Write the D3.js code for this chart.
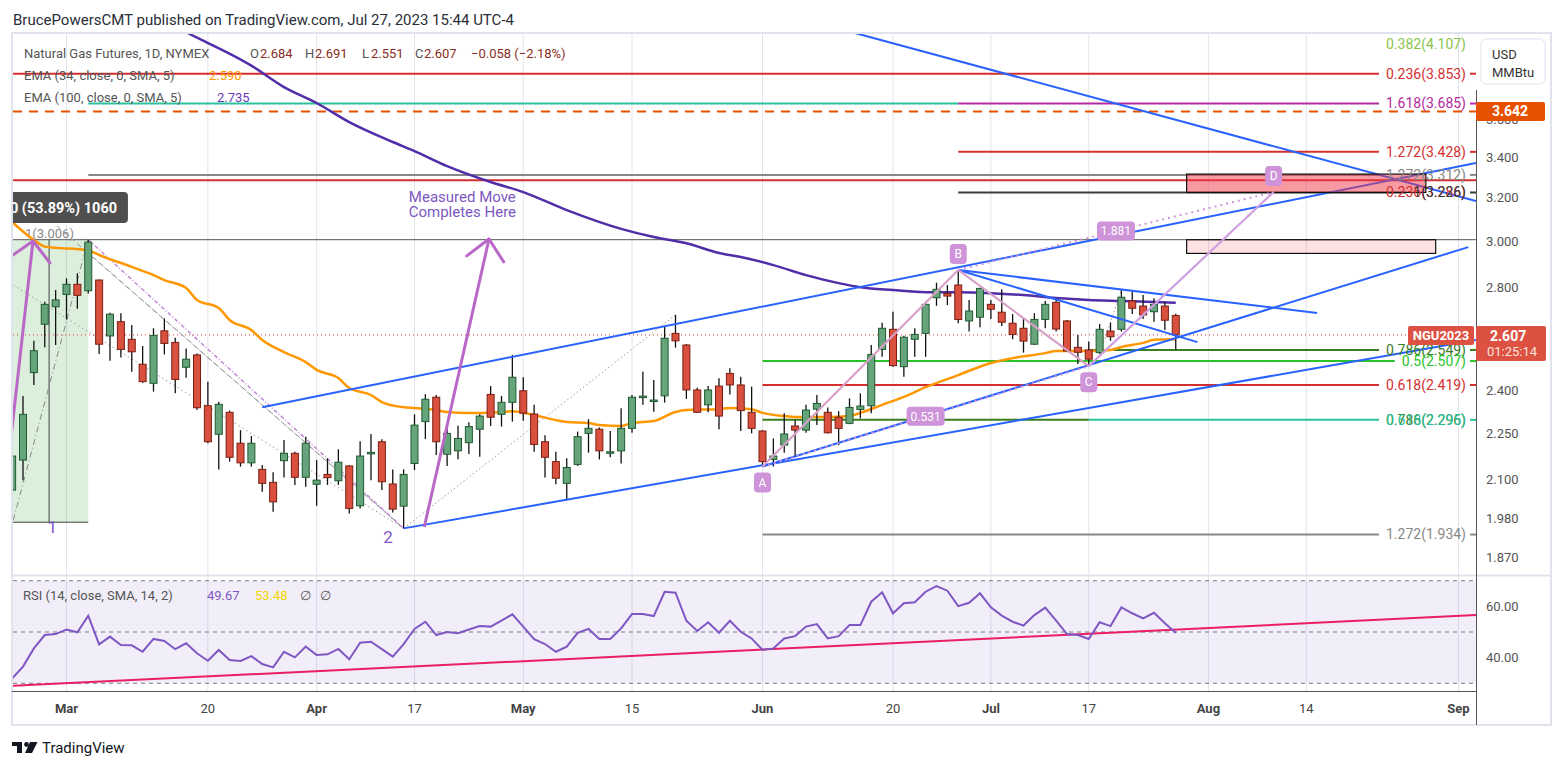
<!DOCTYPE html>
<html>
<head>
<meta charset="utf-8">
<style>
body { margin: 0; background: #fff; }
svg text { font-family: Roboto, "Noto Sans", sans-serif; }
</style>
</head>
<body>
<svg id="chart" width="1564" height="770"></svg>
<script src="https://cdn.jsdelivr.net/npm/d3@7"></script>
<script>
// trading calendar (bar -5 = Feb 22, bar 0 = Mar 1)
var holidays = ["2023-04-07", "2023-05-29", "2023-06-19", "2023-07-04", "2023-09-04"];
var firstDay = "2023-02-22", lastDay = "2023-09-08";

// OHLC, one value per bar from Feb 22 to Jul 27
var open  = [2.067,2.162,2.464,2.649,2.719,2.770,2.812,2.785,2.830,2.603,2.659,2.590,2.495,2.425,2.623,2.578,2.484,2.530,2.345,2.247,2.322,2.217,2.153,2.132,2.091,2.160,2.184,2.107,2.085,2.116,2.096,2.143,2.019,2.184,2.222,2.086,2.018,2.151,2.290,2.375,2.181,2.192,2.219,2.264,2.385,2.315,2.357,2.398,2.316,2.222,2.157,2.088,2.148,2.250,2.264,2.184,2.192,2.267,2.375,2.362,2.380,2.613,2.568,2.401,2.348,2.415,2.461,2.419,2.322,2.258,2.164,2.211,2.275,2.261,2.333,2.322,2.305,2.284,2.332,2.345,2.551,2.629,2.486,2.590,2.613,2.756,2.774,2.809,2.662,2.677,2.729,2.697,2.653,2.633,2.571,2.668,2.737,2.662,2.559,2.549,2.539,2.622,2.629,2.743,2.722,2.699,2.722,2.684];
var high  = [2.188,2.379,2.584,2.740,2.788,2.837,2.859,3.006,2.832,2.695,2.693,2.646,2.564,2.633,2.672,2.596,2.555,2.536,2.431,2.359,2.328,2.261,2.241,2.146,2.123,2.228,2.189,2.239,2.162,2.168,2.197,2.146,2.224,2.248,2.230,2.132,2.132,2.315,2.386,2.383,2.273,2.276,2.288,2.315,2.415,2.380,2.530,2.447,2.348,2.244,2.189,2.168,2.256,2.298,2.270,2.258,2.336,2.383,2.467,2.437,2.639,2.686,2.572,2.409,2.415,2.443,2.480,2.449,2.413,2.261,2.233,2.319,2.295,2.348,2.383,2.339,2.326,2.371,2.389,2.568,2.655,2.699,2.604,2.633,2.740,2.819,2.809,2.873,2.747,2.797,2.747,2.791,2.690,2.672,2.693,2.743,2.747,2.666,2.607,2.581,2.650,2.655,2.788,2.781,2.767,2.754,2.740,2.691];
var low   = [2.052,2.098,2.419,2.559,2.568,2.668,2.711,2.774,2.534,2.508,2.520,2.467,2.427,2.395,2.532,2.389,2.445,2.330,2.217,2.132,2.157,2.141,2.141,2.062,2.001,2.106,2.083,2.077,2.019,2.083,2.083,1.996,2.011,2.098,2.067,1.999,1.952,2.130,2.231,2.178,2.143,2.165,2.182,2.173,2.275,2.273,2.290,2.293,2.189,2.106,2.085,2.036,2.143,2.186,2.164,2.171,2.151,2.252,2.348,2.324,2.356,2.558,2.369,2.320,2.322,2.264,2.385,2.258,2.250,2.141,2.141,2.186,2.175,2.252,2.278,2.250,2.211,2.281,2.301,2.319,2.523,2.486,2.449,2.523,2.523,2.723,2.726,2.653,2.620,2.637,2.670,2.642,2.590,2.539,2.568,2.633,2.620,2.542,2.496,2.488,2.534,2.584,2.620,2.690,2.670,2.659,2.626,2.551];
var close = [2.175,2.315,2.546,2.729,2.747,2.812,2.766,2.995,2.571,2.689,2.551,2.542,2.431,2.605,2.574,2.439,2.514,2.338,2.222,2.350,2.171,2.153,2.217,2.088,2.031,2.184,2.107,2.217,2.098,2.106,2.155,2.011,2.175,2.187,2.093,2.009,2.116,2.278,2.368,2.222,2.250,2.233,2.273,2.309,2.305,2.357,2.447,2.319,2.213,2.171,2.104,2.138,2.239,2.267,2.192,2.189,2.267,2.375,2.379,2.365,2.594,2.584,2.401,2.322,2.401,2.309,2.419,2.328,2.267,2.157,2.175,2.248,2.261,2.330,2.353,2.252,2.267,2.339,2.344,2.532,2.633,2.490,2.598,2.609,2.729,2.791,2.763,2.668,2.702,2.795,2.709,2.657,2.609,2.583,2.668,2.729,2.630,2.545,2.540,2.514,2.629,2.600,2.758,2.713,2.686,2.729,2.665,2.607];

// RSI(14), one value per bar
var rsi = [31.9,36.5,43.6,48.8,49.2,51.0,49.9,56.4,45.2,48.2,44.9,44.8,42.3,47.3,46.5,43.3,45.6,41.7,38.8,43.0,39.1,38.7,40.6,37.5,36.2,42.3,40.1,44.3,41.0,41.3,43.4,39.4,45.8,46.2,43.3,40.4,45.3,51.2,54.0,48.8,50.0,49.5,51.0,52.3,52.1,54.4,56.9,52.1,47.2,45.3,42.3,44.3,49.7,51.2,47.3,47.3,51.4,57.0,57.0,56.2,65.7,65.3,54.4,50.4,53.8,49.7,54.4,50.1,47.5,43.0,43.6,47.5,48.4,52.1,53.1,47.5,48.4,52.7,52.7,61.8,65.5,57.3,61.2,61.6,65.7,67.9,66.1,60.1,61.4,65.1,59.6,56.4,54.0,52.5,56.6,59.5,54.4,49.2,48.8,47.3,53.8,52.3,59.6,57.3,55.3,57.5,53.4,49.7];

// EMA values: [bar, value]
var ema34 = [[-5,3.087],[-3,3.005],[-2,2.975],[2,2.958],[3,2.938],[6,2.886],[8,2.851],[9,2.830],[11,2.796],[12,2.747],[14,2.714],[15,2.666],[17,2.626],[18,2.587],[20,2.541],[22,2.503],[23,2.474],[25,2.444],[26,2.408],[28,2.383],[29,2.358],[31,2.340],[32,2.337],[34,2.330],[35,2.323],[37,2.320],[38,2.320],[40,2.323],[41,2.326],[43,2.313],[45,2.295],[46,2.289],[48,2.285],[49,2.278],[51,2.275],[52,2.285],[54,2.292],[56,2.323],[57,2.330],[60,2.333],[61,2.337],[63,2.333],[64,2.320],[66,2.309],[67,2.306],[70,2.306],[72,2.309],[73,2.320],[75,2.348],[77,2.376],[79,2.411],[82,2.455],[85,2.500],[87,2.518],[90,2.537],[91,2.545],[94,2.545],[96,2.549],[97,2.560],[99,2.576],[100,2.588],[102,2.590]];
var ema100 = [[9,4.170],[11,4.100],[17,3.900],[20,3.777],[23,3.688],[26,3.584],[30,3.479],[32,3.432],[35,3.356],[39,3.277],[42,3.228],[46,3.142],[51,3.055],[54,3.018],[57,2.990],[60,2.947],[62,2.929],[65,2.894],[68,2.851],[71,2.817],[73,2.800],[76,2.788],[79,2.779],[82,2.779],[85,2.775],[88,2.767],[91,2.755],[94,2.747],[97,2.743],[100,2.739],[102,2.735]];

// time axis
var ticks = [["2023-03-01","Mar",1],["2023-03-20","20",0],["2023-04-03","Apr",1],["2023-04-17","17",0],["2023-05-01","May",1],["2023-05-15","15",0],["2023-06-01","Jun",1],["2023-06-20","20",0],["2023-07-03","Jul",1],["2023-07-17","17",0],["2023-08-01","Aug",1],["2023-08-14","14",0],["2023-09-01","Sep",1]];
var priceTicks = [3.6, 3.4, 3.2, 3.0, 2.8, 2.6, 2.4, 2.25, 2.1, 1.98, 1.87];
var rsiTicks = [60, 40];

// drawings, [bar, price]
var abcd = {A:[64,2.141], B:[82,2.873], C:[94,2.488], D:[111,3.228]};
var ratioLabels = [["A","C","0.531"],["B","D","1.881"]];
var blueLines = [
  [[18,2.340],[129.6,3.371]],
  [[31,1.952],[129.6,2.587]],
  [[72.5,4.095],[129.6,3.185]],
  [[64,2.141],[128.9,2.973]],
  [[82,2.873],[115,2.694]],
  [[82,2.873],[104,2.579]]
];
var fanTip = [31,1.952];
var fanStarts = [[-4.9,2.809,"dot"],[-0.87,3.068,"dash"],[2.44,2.929,"dash"],[2,3.006,"violet"]];
var dottedGray = [[[31,1.952],[56,2.686]],[[95,2.534],[97,2.788]]];
var moveArrow = {from:[32.9,1.956], tip:[38.85,3.009], arms:[[36.8,2.934],[40.2,2.908]]};
var boxArrow = {from:[-6.5,1.825], tip:[-3.08,3.0], arms:[[-4.92,2.938],[-1.52,2.903]]};
var rangeBox = {x0:-7, x1:2, p0:1.970, p1:3.006, mid:-1.6};
var targetBoxes = [{x0:103.0, x1:125.0, p0:3.226, p1:3.316, kind:"strong"}, {x0:103.0, x1:125.9, p0:2.945, p1:3.006, kind:"light"}];
var rsiTrend = [[-5,29.0],[129.6,56.6]];

// fib levels
var fibs = [
  {v:4.107, from:-7, text:"0.382(4.107)", kind:"lime"},
  {v:3.853, from:-7, text:"0.236(3.853)", kind:"red"},
  {v:3.685, from:2, to:82, kind:"teal"},
  {v:3.685, from:82, text:"1.618(3.685)", kind:"magenta"},
  {v:3.428, from:82, text:"1.272(3.428)", kind:"red"},
  {v:3.312, from:2, text:"1.272(3.312)", kind:"gray"},
  {v:3.226, text:"0.236(3.286)", kind:"red", overlay:1},
  {v:3.226, from:82, text:"1(3.226)", kind:"black"},
  {v:2.549, from:94, text:"0.786(2.549)", kind:"dkgreen"},
  {v:2.507, from:64, text:"0.5(2.507)", kind:"green"},
  {v:2.419, from:64, text:"0.618(2.419)", kind:"red"},
  {v:2.296, from:64, to:94, kind:"dkgreen"},
  {v:2.296, text:"0.786(2.296)", kind:"dkgreen", overlay:1},
  {v:2.296, from:94, text:"0.618(2.295)", kind:"teal"},
  {v:1.934, from:64, text:"1.272(1.934)", kind:"gray"}
];
var fibColor = {lime:"#8bc34a", red:"#d32f2f", teal:"#2bc29a", magenta:"#b52aa0", gray:"#888888", black:"#3a3a3a", dkgreen:"#3a7d1f", green:"#2ac42a"};

var lastPrice = 2.607, markPrice = 3.642, levelRed = 3.286, levelOne = 3.006;

// ---------------------------------------------------------------
var svg = d3.select("#chart");
var L = 13, R = 1476, T = 33, PB = 575, RT = 576, RB = 691, XB = 725;

var parse = d3.utcParse("%Y-%m-%d"), fmt = d3.utcFormat("%Y-%m-%d");
var calendar = [];
for (var d = parse(firstDay); d <= parse(lastDay); d = d3.utcDay.offset(d, 1)) {
  var wd = d.getUTCDay(), s = fmt(d);
  if (wd > 0 && wd < 6 && holidays.indexOf(s) < 0) calendar.push(s);
}
var barOf = function(s) { return calendar.indexOf(s) - 5; };

var x = d3.scaleLinear().domain([0, 128]).range([66.5, 1458.5]);
var y = d3.scaleLog().domain([1.8205, 4.095]).range([PB, T]);
var yr = d3.scaleLinear().domain([30, 70]).range([683.3, 580.7]);
var P = function(pt) { return [x(pt[0]), y(pt[1])]; };

var bars = open.map(function(o, i) {
  return {i: i - 5, o: o, h: high[i], l: low[i], c: close[i]};
});

var defs = svg.append("defs");
defs.append("clipPath").attr("id", "pane").append("rect").attr("x", L).attr("y", T).attr("width", R - L).attr("height", PB - T);
defs.append("clipPath").attr("id", "rpane").append("rect").attr("x", L).attr("y", RT).attr("width", R - L).attr("height", RB - RT);

// grid
svg.append("g").selectAll("line").data(ticks).enter().append("line")
  .attr("x1", function(t) { return x(barOf(t[0])); }).attr("x2", function(t) { return x(barOf(t[0])); })
  .attr("y1", T).attr("y2", RB).attr("stroke", "#e3e3ec").attr("stroke-width", 1);

var g = svg.append("g").attr("clip-path", "url(#pane)");

// range box on the left
g.append("rect").attr("x", x(rangeBox.x0)).attr("y", y(rangeBox.p1))
  .attr("width", x(rangeBox.x1) - x(rangeBox.x0)).attr("height", y(rangeBox.p0) - y(rangeBox.p1))
  .attr("fill", "rgba(76,175,80,0.2)");
g.append("line").attr("x1", x(rangeBox.mid)).attr("x2", x(rangeBox.mid))
  .attr("y1", y(rangeBox.p1)).attr("y2", y(rangeBox.p0)).attr("stroke", "#444").attr("stroke-width", 1);
g.append("line").attr("x1", x(rangeBox.x0)).attr("x2", x(rangeBox.x1))
  .attr("y1", y(rangeBox.p0)).attr("y2", y(rangeBox.p0)).attr("stroke", "#444").attr("stroke-width", 1);
g.append("line").attr("x1", x(-4.9)).attr("y1", y(1.976)).attr("x2", x(2)).attr("y2", y(3.006))
  .attr("stroke", "#888").attr("stroke-width", 1).attr("stroke-dasharray", "6,3,1,3");

// horizontal levels
g.append("line").attr("x1", L).attr("x2", R).attr("y1", y(levelOne)).attr("y2", y(levelOne)).attr("stroke", "#555").attr("stroke-width", 1);
g.append("line").attr("x1", L).attr("x2", R).attr("y1", y(levelRed)).attr("y2", y(levelRed)).attr("stroke", "#d32f2f").attr("stroke-width", 2);
g.append("line").attr("x1", L).attr("x2", R).attr("y1", y(markPrice)).attr("y2", y(markPrice))
  .attr("stroke", "#e65100").attr("stroke-width", 2).attr("stroke-dasharray", "9,7");
g.append("line").attr("x1", L).attr("x2", 1408).attr("y1", y(lastPrice)).attr("y2", y(lastPrice))
  .attr("stroke", "#e53935").attr("stroke-width", 1).attr("stroke-dasharray", "1,3");

var fg = svg.append("g");
fibs.forEach(function(f) {
  var yy = y(f.v), col = fibColor[f.kind], end = f.to !== undefined ? x(f.to) : R;
  if (f.text) {
    var t = fg.append("text").attr("x", 1466).attr("y", Math.max(yy, 44)).attr("dy", "0.35em")
      .attr("text-anchor", "end").attr("font-size", 14).attr("fill", col).text(f.text);
    if (!f.overlay) {
      end = 1466 - t.node().getComputedTextLength() - 7;
      g.append("line").attr("x1", 1470).attr("x2", R).attr("y1", yy).attr("y2", yy).attr("stroke", col).attr("stroke-width", 2);
    }
  }
  if (!f.overlay) g.append("line").attr("x1", x(f.from)).attr("x2", end).attr("y1", yy).attr("y2", yy).attr("stroke", col).attr("stroke-width", 2);
});
g.append("text").attr("x", 25).attr("y", y(levelOne) - 2).attr("font-size", 13).attr("fill", "#888").text("1(3.006)");

// fan on the left
fanStarts.forEach(function(f) {
  g.append("line").attr("x1", x(f[0])).attr("y1", y(f[1])).attr("x2", x(fanTip[0])).attr("y2", y(fanTip[1]))
    .attr("stroke", f[2] === "violet" ? "#c28ad6" : "#999").attr("stroke-width", f[2] === "violet" ? 1.5 : 1)
    .attr("stroke-dasharray", f[2] === "dot" ? "1.5,3" : f[2] === "dash" ? "5,4" : "4,2,1,2");
});
dottedGray.forEach(function(l) {
  g.append("line").attr("x1", x(l[0][0])).attr("y1", y(l[0][1])).attr("x2", x(l[1][0])).attr("y2", y(l[1][1]))
    .attr("stroke", "#9a9a9a").attr("stroke-width", 1).attr("stroke-dasharray", "1.5,2.5");
});

// EMAs
var line = d3.line().x(function(p) { return x(p[0]); }).y(function(p) { return y(p[1]); }).curve(d3.curveMonotoneX);
g.append("path").attr("d", line(ema100)).attr("fill", "none").attr("stroke", "#512da8").attr("stroke-width", 2.5);
g.append("path").attr("d", line(ema34)).attr("fill", "none").attr("stroke", "#ff9800").attr("stroke-width", 2.5);

// candles
var cg = g.append("g");
cg.selectAll("line").data(bars).enter().append("line")
  .attr("x1", function(b) { return x(b.i); }).attr("x2", function(b) { return x(b.i); })
  .attr("y1", function(b) { return y(b.h); }).attr("y2", function(b) { return y(b.l); })
  .attr("stroke", "#111").attr("stroke-width", 1.3);
cg.selectAll("rect").data(bars).enter().append("rect")
  .attr("x", function(b) { return x(b.i) - 3.5; }).attr("width", 7)
  .attr("y", function(b) { return y(Math.max(b.o, b.c)); })
  .attr("height", function(b) { return Math.max(1.5, Math.abs(y(b.o) - y(b.c))); })
  .attr("fill", function(b) { return b.c >= b.o ? "#66a47c" : "#d9513e"; })
  .attr("stroke", function(b) { return b.c >= b.o ? "#1f5a30" : "#7b1e12"; }).attr("stroke-width", 1);

// trend lines
blueLines.forEach(function(l) {
  g.append("line").attr("x1", x(l[0][0])).attr("y1", y(l[0][1])).attr("x2", x(l[1][0])).attr("y2", y(l[1][1]))
    .attr("stroke", "#2962ff").attr("stroke-width", 2);
});

// rectangles near the target
targetBoxes.forEach(function(b) {
  g.append("rect").attr("x", x(b.x0)).attr("y", y(b.p1)).attr("width", x(b.x1) - x(b.x0)).attr("height", y(b.p0) - y(b.p1))
    .attr("fill", b.kind === "strong" ? "rgba(242,54,69,0.5)" : "rgba(242,54,69,0.15)")
    .attr("stroke", "#111").attr("stroke-width", 1.2);
});

// ABCD pattern
var segs = [["A","B","#d7a0c6"],["B","C","#d7a0c6"],["C","D","#cf9fe0"]];
segs.forEach(function(sg) {
  var a = P(abcd[sg[0]]), b = P(abcd[sg[1]]);
  g.append("line").attr("x1", a[0]).attr("y1", a[1]).attr("x2", b[0]).attr("y2", b[1]).attr("stroke", sg[2]).attr("stroke-width", 2.2);
});
ratioLabels.forEach(function(r) {
  var a = P(abcd[r[0]]), b = P(abcd[r[1]]);
  g.append("line").attr("x1", a[0]).attr("y1", a[1]).attr("x2", b[0]).attr("y2", b[1])
    .attr("stroke", "#ce93d8").attr("stroke-width", 2).attr("stroke-dasharray", "2,4");
  var mx = (a[0] + b[0]) / 2, my = (a[1] + b[1]) / 2;
  g.append("rect").attr("x", mx - 19).attr("y", my - 9.5).attr("width", 38).attr("height", 19).attr("rx", 4).attr("fill", "#ce93d8");
  g.append("text").attr("x", mx).attr("y", my).attr("dy", "0.35em").attr("text-anchor", "middle")
    .attr("font-size", 12).attr("fill", "#fff").text(r[2]);
});
Object.keys(abcd).forEach(function(k) {
  var p = P(abcd[k]), up = (k === "B" || k === "D"), cy = p[1] + (up ? -16 : 16);
  g.append("rect").attr("x", p[0] - 8.5).attr("y", cy - 10).attr("width", 17).attr("height", 20).attr("rx", 4).attr("fill", "#ce93d8");
  g.append("text").attr("x", p[0]).attr("y", cy).attr("dy", "0.35em").attr("text-anchor", "middle")
    .attr("font-size", 12).attr("fill", "#fff").text(k);
});

// arrows
[moveArrow, boxArrow].forEach(function(a) {
  var t = P(a.tip), f = P(a.from);
  g.append("line").attr("x1", f[0]).attr("y1", f[1]).attr("x2", t[0]).attr("y2", t[1]).attr("stroke", "#ba68c8").attr("stroke-width", 3);
  a.arms.forEach(function(m) {
    var q = P(m);
    g.append("line").attr("x1", t[0]).attr("y1", t[1]).attr("x2", q[0]).attr("y2", q[1]).attr("stroke", "#ba68c8").attr("stroke-width", 3).attr("stroke-linecap", "round");
  });
});
g.append("text").attr("x", x(36.4)).attr("y", y(3.204)).attr("dy", "0.35em").attr("text-anchor", "middle")
  .attr("font-size", 15).attr("fill", "#7e57c2").text("Measured Move");
g.append("text").attr("x", x(36.4)).attr("y", y(3.134)).attr("dy", "0.35em").attr("text-anchor", "middle")
  .attr("font-size", 15).attr("fill", "#7e57c2").text("Completes Here");
g.append("text").attr("x", x(-1.3)).attr("y", y(1.956)).attr("dy", "0.35em").attr("text-anchor", "middle")
  .attr("font-size", 17).attr("fill", "#7e57c2").text("1");
g.append("text").attr("x", x(29.57)).attr("y", y(1.926)).attr("dy", "0.35em").attr("text-anchor", "middle")
  .attr("font-size", 17).attr("fill", "#7e57c2").text("2");

// price range tooltip (its left part runs off the pane)
g.append("rect").attr("x", x(-8)).attr("y", y(3.228)).attr("width", x(5.65) - x(-8)).attr("height", y(3.082) - y(3.228))
  .attr("rx", 4).attr("fill", "#4f4f4f");
g.append("text").attr("x", x(4.65)).attr("y", (y(3.228) + y(3.082)) / 2).attr("dy", "0.35em").attr("text-anchor", "end")
  .attr("font-size", 14.5).attr("font-weight", "bold").attr("fill", "#fff").text("0 (53.89%) 1060");

// RSI pane
var rg = svg.append("g").attr("clip-path", "url(#rpane)");
rg.append("rect").attr("x", L).attr("y", yr(70)).attr("width", R - L).attr("height", yr(30) - yr(70)).attr("fill", "rgba(126,87,194,0.1)");
[70, 50, 30].forEach(function(v) {
  rg.append("line").attr("x1", L).attr("x2", R).attr("y1", yr(v)).attr("y2", yr(v))
    .attr("stroke", "#787b86").attr("stroke-width", 1).attr("stroke-dasharray", "4,4");
});
rg.append("line").attr("x1", x(rsiTrend[0][0])).attr("y1", yr(rsiTrend[0][1])).attr("x2", x(rsiTrend[1][0])).attr("y2", yr(rsiTrend[1][1]))
  .attr("stroke", "#e91e63").attr("stroke-width", 2);
rg.append("path").attr("d", d3.line().x(function(v, i) { return x(i - 5); }).y(function(v) { return yr(v); })(rsi))
  .attr("fill", "none").attr("stroke", "#7e57c2").attr("stroke-width", 2);

// frame and axes
svg.append("rect").attr("x", 12).attr("y", T).attr("width", 1539).attr("height", XB - T).attr("fill", "none").attr("stroke", "#e0e3eb").attr("stroke-width", 2);
svg.append("line").attr("x1", 12).attr("x2", 1551).attr("y1", PB + 0.5).attr("y2", PB + 0.5).attr("stroke", "#e0e3eb").attr("stroke-width", 2);
svg.append("line").attr("x1", 12).attr("x2", R).attr("y1", RB + 0.5).attr("y2", RB + 0.5).attr("stroke", "#555").attr("stroke-width", 1);
svg.append("line").attr("x1", R + 0.5).attr("x2", R + 0.5).attr("y1", 90).attr("y2", XB).attr("stroke", "#555").attr("stroke-width", 1);

svg.append("g").selectAll("text").data(ticks).enter().append("text")
  .attr("x", function(t) { return x(barOf(t[0])); }).attr("y", 708).attr("dy", "0.35em").attr("text-anchor", "middle")
  .attr("font-size", 13).attr("font-weight", function(t) { return t[2] ? "bold" : "normal"; })
  .attr("fill", "#444").text(function(t) { return t[1]; });

svg.append("g").selectAll("text").data(priceTicks).enter().append("text")
  .attr("x", 1486).attr("y", function(v) { return y(v); }).attr("dy", "0.35em")
  .attr("font-size", 13).attr("fill", "#555").text(function(v) { return v.toFixed(3); });
svg.append("g").selectAll("text").data(rsiTicks).enter().append("text")
  .attr("x", 1486).attr("y", function(v) { return yr(v); }).attr("dy", "0.35em")
  .attr("font-size", 13).attr("fill", "#555").text(function(v) { return v.toFixed(2); });

// price boxes
svg.append("rect").attr("x", 1481).attr("y", 39).attr("width", 64).attr("height", 45).attr("rx", 5)
  .attr("fill", "#fff").attr("stroke", "#e0e3eb");
svg.append("text").attr("x", 1492).attr("y", 54).attr("dy", "0.35em").attr("font-size", 13).attr("fill", "#333").text("USD");
svg.append("text").attr("x", 1492).attr("y", 72).attr("dy", "0.35em").attr("font-size", 13).attr("fill", "#333").text("MMBtu");
svg.append("rect").attr("x", R).attr("y", y(markPrice) - 9.5).attr("width", 69).attr("height", 19).attr("rx", 2).attr("fill", "#e65100");
svg.append("text").attr("x", 1510).attr("y", y(markPrice)).attr("dy", "0.35em").attr("text-anchor", "middle")
  .attr("font-size", 14).attr("font-weight", "bold").attr("fill", "#fff").text("3.642");
svg.append("rect").attr("x", 1408).attr("y", y(lastPrice) - 9).attr("width", 66).attr("height", 19).attr("rx", 2).attr("fill", "#dc5142");
svg.append("text").attr("x", 1441).attr("y", y(lastPrice) + 0.5).attr("dy", "0.35em").attr("text-anchor", "middle")
  .attr("font-size", 13).attr("font-weight", "bold").attr("fill", "#fff").text("NGU2023");
svg.append("rect").attr("x", R).attr("y", y(lastPrice) - 9).attr("width", 70).attr("height", 35).attr("rx", 2).attr("fill", "#dc5142");
svg.append("text").attr("x", 1490).attr("y", y(lastPrice) + 1).attr("dy", "0.35em")
  .attr("font-size", 14).attr("font-weight", "bold").attr("fill", "#fff").text("2.607");
svg.append("text").attr("x", 1487).attr("y", y(lastPrice) + 17).attr("dy", "0.35em")
  .attr("font-size", 13).attr("fill", "#fbe3df").text("01:25:14");

// legends
svg.append("text").attr("x", 13).attr("y", 20).attr("dy", "0.35em").attr("font-size", 15).attr("fill", "#2a2e39")
  .text("BrucePowersCMT published on TradingView.com, Jul 27, 2023 15:44 UTC-4");
var leg = svg.append("g").attr("font-size", 13);
var put = function(tx, px, py, col) { leg.append("text").attr("x", px).attr("y", py).attr("dy", "0.35em").attr("fill", col).text(tx); };
put("Natural Gas Futures, 1D, NYMEX", 24, 53, "#555");
[["O", "2.684", 250, 260], ["H", "2.691", 305, 315], ["L", "2.551", 362, 371], ["C", "2.607", 415, 424]].forEach(function(o) {
  put(o[0], o[2], 53, "#555"); put(o[1], o[3], 53, "#8a2e25");
});
put("\u22120.058 (\u22122.18%)", 471, 53, "#8a2e25");
put("EMA (34, close, 0, SMA, 5)", 24, 75, "#555"); put("2.590", 209, 75, "#ff9800");
put("EMA (100, close, 0, SMA, 5)", 24, 97, "#555"); put("2.735", 217, 97, "#673ab7");
put("RSI (14, close, SMA, 14, 2)", 23, 595, "#555"); put("49.67", 207, 595, "#7e57c2");
put("53.48", 255, 595, "#f2d600"); put("\u2205", 300, 595, "#555"); put("\u2205", 320, 595, "#555");

// footer logo
var lg = svg.append("g").attr("fill", "#131722");
lg.append("rect").attr("x", 12).attr("y", 742).attr("width", 10).attr("height", 4);
lg.append("rect").attr("x", 17).attr("y", 742).attr("width", 5).attr("height", 11);
lg.append("circle").attr("cx", 26.5).attr("cy", 744.5).attr("r", 2.4);
lg.append("path").attr("d", "M30,742 L37.5,742 L32,753 L25,753 Z");
svg.append("text").attr("x", 42).attr("y", 748).attr("dy", "0.35em").attr("font-size", 15).attr("fill", "#131722").text("TradingView");
</script>
</body>
</html>
